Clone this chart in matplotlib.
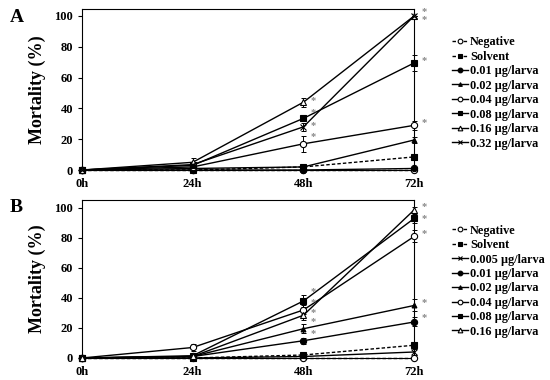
import numpy as np
import matplotlib
matplotlib.use('Agg')
import matplotlib.pyplot as plt

plt.rcParams['font.family'] = 'Liberation Serif'
plt.rcParams['font.weight'] = 'bold'

hours = [0, 24, 48, 72]
xlabels = ['0h', '24h', '48h', '72h']

# panel A
labels_a = ['Negative', 'Solvent', '0.01 µg/larva', '0.02 µg/larva', '0.04 µg/larva',
            '0.08 µg/larva', '0.16 µg/larva', '0.32 µg/larva']
values_a = [[0, 0, 0, 0],
            [0, 0, 2, 8.5],
            [0, 0, 0, 1],
            [0, 1, 2, 19.5],
            [0, 2, 17, 29],
            [0, 3, 33.5, 69.5],
            [0, 5, 44, 100],
            [0, 3.5, 28, 100]]
errors_a = [[0, 0, 0, 0],
            [0, 0, 1, 2],
            [0, 0, 0, 1],
            [0, 1, 1, 2],
            [0, 1, 5, 3],
            [0, 1, 2, 5],
            [0, 3, 3, 0],
            [0, 1, 2.5, 0]]
stars_a = [(48, 45), (48, 37), (48, 29), (48, 22), (72, 103), (72, 97.5), (72, 71), (72, 31)]

# panel B
labels_b = ['Negative', 'Solvent', '0.005 µg/larva', '0.01 µg/larva', '0.02 µg/larva',
            '0.04 µg/larva', '0.08 µg/larva', '0.16 µg/larva']
values_b = [[0, 0, 0, 0],
            [0, 0, 2, 8.5],
            [0, 0, 1, 4],
            [0, 1, 11.5, 24],
            [0, 1, 19.5, 35],
            [0, 7, 32, 81],
            [0, 1.5, 38, 93],
            [0, 1, 28.5, 98.7]]
errors_b = [[0, 0, 0, 0],
            [0, 0, 1, 2],
            [0, 0, 1, 2],
            [0, 1, 2, 3],
            [0, 1, 3, 4],
            [0, 2.5, 3, 4],
            [0, 1, 4, 3],
            [0, 1, 3, 2]]
stars_b = [(48, 44.5), (48, 37), (48, 30), (48, 24), (48, 16.5),
           (72, 101), (72, 93), (72, 83), (72, 37), (72, 27)]

# marker / line style per label
styles = {
    'Negative': dict(marker='o', mfc='white', ls='--', ms=4.5),
    'Solvent': dict(marker='s', mfc='black', ls='--', ms=4.5),
    '0.005 µg/larva': dict(marker='x', mfc='black', ls='-', ms=4.5),
    '0.01 µg/larva': dict(marker='o', mfc='black', ls='-', ms=4.5),
    '0.02 µg/larva': dict(marker='^', mfc='black', ls='-', ms=3.5),
    '0.04 µg/larva': dict(marker='o', mfc='white', ls='-', ms=4.5),
    '0.08 µg/larva': dict(marker='s', mfc='black', ls='-', ms=4.5),
    '0.16 µg/larva': dict(marker='^', mfc='white', ls='-', ms=4.5),
    '0.32 µg/larva': dict(marker='x', mfc='black', ls='-', ms=4.5),
}


def panel(ax, labels, values, errors, stars, ymax, legend_y):
    handles = []
    for lab, v, e in zip(labels, values, errors):
        st = styles[lab]
        ax.errorbar(hours, v, yerr=e, fmt='none', ecolor='black', elinewidth=0.7,
                    capsize=1.8, capthick=0.7, clip_on=False)
        ln, = ax.plot(hours, v, color='black', lw=1.0, marker=st['marker'],
                      mfc=st['mfc'], mec='black', mew=0.8, ms=st['ms'],
                      ls=st['ls'], label=lab, clip_on=False, zorder=3)
        if st['ls'] == '--':
            ln.set_dashes((2.5, 1.5))
        handles.append(ln)
    for x, y in stars:
        ax.text(x + 2.2, y, '*', color='#888888', fontsize=7.5, ha='center', va='center')
    ax.set_xlim(0, 72)
    ax.set_ylim(0, ymax)
    ax.set_xticks(hours)
    ax.set_xticklabels(xlabels)
    ax.set_yticks([0, 20, 40, 60, 80, 100])
    ax.tick_params(axis='x', length=0, pad=6, labelsize=9)
    ax.tick_params(axis='y', length=3, labelsize=9)
    for s in ax.spines.values():
        s.set_linewidth(0.8)
    ax.set_ylabel('Mortality (%)', fontsize=13, fontweight='bold', labelpad=6)
    ax.legend(handles=handles, loc='upper left', bbox_to_anchor=(1.10, legend_y),
              frameon=False, fontsize=8.8, handlelength=1.3, handletextpad=0.15,
              labelspacing=0.2, borderaxespad=0, markerscale=0.75)


fig = plt.figure(figsize=(5.5, 3.8), dpi=100)
ax_a = fig.add_axes([0.149, 0.5526, 0.604, 0.4237])
ax_b = fig.add_axes([0.149, 0.0579, 0.604, 0.4158])
panel(ax_a, labels_a, values_a, errors_a, stars_a, 104.5, 0.86)
panel(ax_b, labels_b, values_b, errors_b, stars_b, 105.3, 0.875)

fig.text(0.018, 0.975, 'A', fontsize=14, fontweight='bold', va='top')
fig.text(0.018, 0.475, 'B', fontsize=14, fontweight='bold', va='top')

fig.savefig('out.png', dpi=100)
